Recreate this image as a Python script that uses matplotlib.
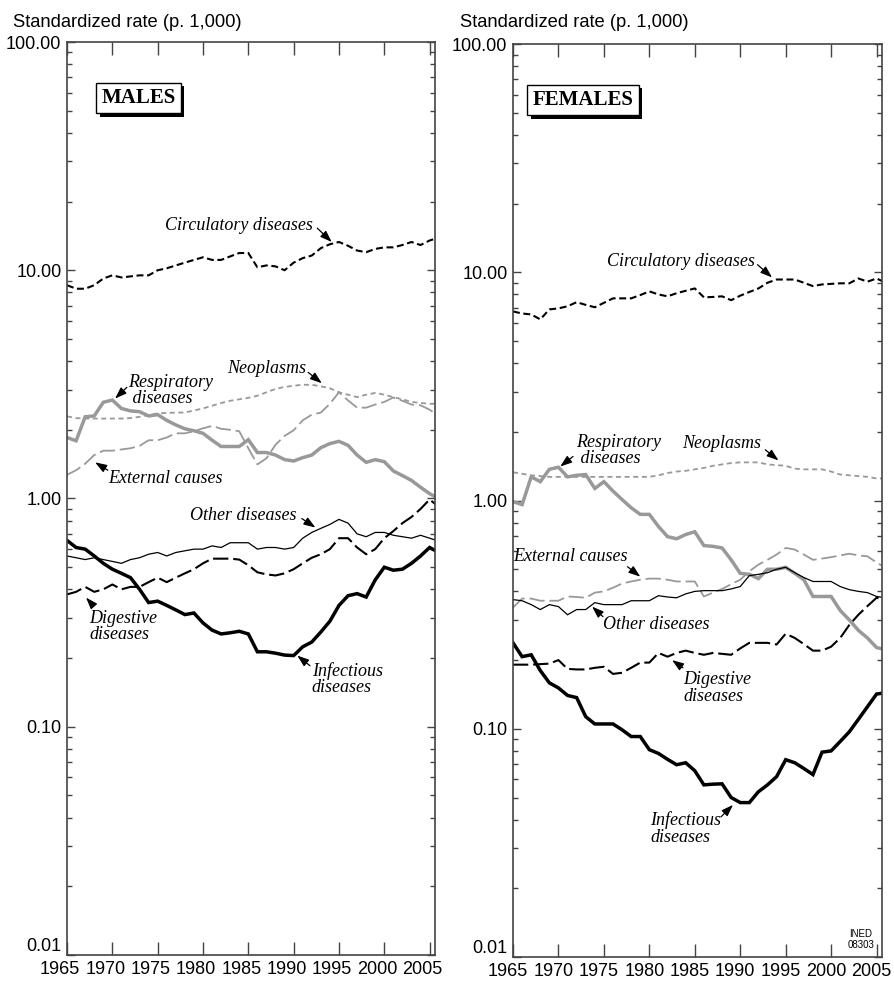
import matplotlib
matplotlib.use('Agg')
import matplotlib.pyplot as plt
import matplotlib.transforms as mtransforms
import matplotlib.patheffects as pe
from matplotlib.ticker import LogLocator, NullFormatter
import numpy as np

plt.rcParams['font.family'] = ['Liberation Sans', 'DejaVu Sans']
plt.rcParams['lines.scale_dashes'] = False

years = np.arange(1965, 2007)
xtick_years = list(range(1965, 2006, 5))
ytick_values = [0.01, 0.1, 1, 10, 100]
ytick_labels = ['0.01', '0.10', '1.00', '10.00', '100.00']

# males, rate per 1,000, 1965-2006
circ_m = [8.6, 8.3, 8.3, 8.6, 9.2, 9.5, 9.3, 9.4, 9.5, 9.5,
          10.0, 10.2, 10.5, 10.8, 11.1, 11.4, 11.1, 11.1, 11.5, 11.9,
          11.9, 10.3, 10.5, 10.4, 10.0, 10.8, 11.3, 11.6, 12.5, 13.0,
          13.3, 12.8, 12.2, 12.0, 12.4, 12.6, 12.6, 12.9, 13.3, 12.9,
          13.5, 13.9]
neo_m = [2.29, 2.25, 2.24, 2.24, 2.24, 2.24, 2.24, 2.25, 2.28, 2.32,
         2.36, 2.37, 2.38, 2.38, 2.43, 2.48, 2.55, 2.62, 2.68, 2.72,
         2.76, 2.82, 2.92, 3.02, 3.08, 3.12, 3.15, 3.15, 3.10, 3.04,
         2.92, 2.85, 2.78, 2.85, 2.90, 2.85, 2.78, 2.72, 2.65, 2.62,
         2.60, 2.60]
resp_m = [1.85, 1.79, 2.28, 2.30, 2.64, 2.70, 2.48, 2.42, 2.40, 2.30,
          2.33, 2.20, 2.10, 2.02, 1.98, 1.93, 1.80, 1.69, 1.69, 1.69,
          1.81, 1.59, 1.59, 1.55, 1.48, 1.46, 1.51, 1.55, 1.67, 1.74,
          1.78, 1.71, 1.55, 1.44, 1.48, 1.45, 1.32, 1.26, 1.20, 1.12,
          1.05, 1.00]
ext_m = [1.27, 1.33, 1.42, 1.55, 1.62, 1.62, 1.64, 1.66, 1.70, 1.80,
         1.80, 1.85, 1.93, 1.93, 1.97, 2.03, 2.08, 2.02, 2.00, 1.97,
         1.66, 1.41, 1.50, 1.72, 1.88, 1.99, 2.20, 2.33, 2.38, 2.60,
         2.92, 2.69, 2.50, 2.50, 2.58, 2.65, 2.77, 2.68, 2.58, 2.56,
         2.45, 2.30]
other_m = [0.56, 0.55, 0.54, 0.55, 0.54, 0.53, 0.52, 0.54, 0.55, 0.57,
           0.58, 0.56, 0.58, 0.59, 0.60, 0.60, 0.62, 0.61, 0.64, 0.64,
           0.64, 0.60, 0.61, 0.61, 0.60, 0.61, 0.67, 0.71, 0.74, 0.77,
           0.81, 0.78, 0.70, 0.68, 0.71, 0.71, 0.69, 0.68, 0.67, 0.69,
           0.67, 0.65]
dig_m = [0.38, 0.39, 0.41, 0.39, 0.40, 0.42, 0.40, 0.41, 0.41, 0.43,
         0.45, 0.43, 0.45, 0.47, 0.49, 0.52, 0.545, 0.545, 0.545, 0.54,
         0.51, 0.475, 0.465, 0.46, 0.47, 0.49, 0.52, 0.55, 0.57, 0.60,
         0.67, 0.67, 0.61, 0.57, 0.60, 0.67, 0.72, 0.78, 0.83, 0.90,
         0.99, 0.92]
inf_m = [0.655, 0.61, 0.60, 0.56, 0.52, 0.49, 0.47, 0.45, 0.40, 0.35,
         0.355, 0.34, 0.325, 0.31, 0.315, 0.285, 0.265, 0.255, 0.258, 0.262,
         0.255, 0.213, 0.213, 0.21, 0.206, 0.205, 0.224, 0.235, 0.26, 0.29,
         0.34, 0.375, 0.383, 0.37, 0.44, 0.50, 0.485, 0.49, 0.52, 0.56,
         0.61, 0.58]

# females
circ_f = [6.74, 6.6, 6.54, 6.22, 6.88, 6.95, 7.1, 7.4, 7.2, 7.03,
          7.35, 7.69, 7.69, 7.69, 7.95, 8.25, 8.0, 7.85, 8.1, 8.3,
          8.5, 7.77, 7.8, 7.85, 7.55, 7.9, 8.2, 8.5, 9.0, 9.3,
          9.3, 9.3, 9.0, 8.7, 8.85, 8.9, 8.95, 8.95, 9.4, 9.1,
          9.4, 9.0]
neo_f = [1.33, 1.31, 1.29, 1.28, 1.27, 1.27, 1.27, 1.27, 1.27, 1.27,
         1.27, 1.27, 1.27, 1.27, 1.27, 1.27, 1.29, 1.32, 1.34, 1.35,
         1.37, 1.39, 1.42, 1.44, 1.46, 1.47, 1.47, 1.47, 1.44, 1.43,
         1.42, 1.38, 1.37, 1.37, 1.37, 1.34, 1.30, 1.29, 1.28, 1.27,
         1.25, 1.25]
resp_f = [0.99, 0.96, 1.27, 1.21, 1.37, 1.40, 1.27, 1.29, 1.30, 1.13,
          1.21, 1.10, 1.01, 0.93, 0.87, 0.87, 0.77, 0.695, 0.68, 0.71,
          0.73, 0.635, 0.63, 0.62, 0.55, 0.48, 0.475, 0.455, 0.50, 0.50,
          0.51, 0.48, 0.45, 0.38, 0.38, 0.38, 0.33, 0.30, 0.27, 0.25,
          0.227, 0.222]
ext_f = [0.34, 0.372, 0.372, 0.364, 0.364, 0.364, 0.38, 0.378, 0.375, 0.395,
         0.40, 0.415, 0.433, 0.442, 0.45, 0.455, 0.455, 0.45, 0.442, 0.442,
         0.442, 0.38, 0.395, 0.41, 0.43, 0.45, 0.49, 0.524, 0.55, 0.58,
         0.62, 0.61, 0.58, 0.55, 0.557, 0.565, 0.575, 0.585, 0.575, 0.57,
         0.535, 0.508]
other_f = [0.368, 0.364, 0.35, 0.333, 0.35, 0.343, 0.316, 0.333, 0.333, 0.357,
           0.35, 0.35, 0.35, 0.364, 0.364, 0.364, 0.383, 0.378, 0.375, 0.39,
           0.40, 0.403, 0.403, 0.403, 0.41, 0.42, 0.469, 0.475, 0.483, 0.50,
           0.51, 0.483, 0.46, 0.442, 0.442, 0.442, 0.42, 0.407, 0.40, 0.395,
           0.38, 0.375]
dig_f = [0.191, 0.191, 0.191, 0.192, 0.193, 0.20, 0.183, 0.182, 0.182, 0.185,
         0.187, 0.174, 0.176, 0.185, 0.195, 0.195, 0.215, 0.207, 0.215, 0.22,
         0.215, 0.211, 0.215, 0.213, 0.211, 0.225, 0.238, 0.238, 0.238, 0.234,
         0.261, 0.25, 0.235, 0.22, 0.22, 0.229, 0.25, 0.285, 0.316, 0.345,
         0.375, 0.368]
inf_f = [0.238, 0.207, 0.211, 0.18, 0.159, 0.151, 0.14, 0.137, 0.113, 0.105,
         0.105, 0.105, 0.099, 0.0925, 0.0925, 0.081, 0.078, 0.0735, 0.0696, 0.071,
         0.0655, 0.0568, 0.0572, 0.0574, 0.05, 0.0475, 0.0475, 0.053, 0.0568, 0.0617,
         0.0732, 0.071, 0.067, 0.063, 0.079, 0.08, 0.088, 0.097, 0.11, 0.125,
         0.142, 0.144]

GRAY = '#999999'
styles = {
    'neo': (GRAY, 1.3, (0, (3.6, 2.6))),
    'ext': (GRAY, 1.3, (0, (11, 3.5))),
    'resp': (GRAY, 2.5, '-'),
    'circ': ('black', 1.5, (0, (5, 2.6))),
    'dig': ('black', 1.5, (0, (11, 3.5))),
    'other': ('black', 0.9, '-'),
    'inf': ('black', 2.5, '-'),
}

fig = plt.figure(figsize=(8.95, 9.84), dpi=100)
ax_m = fig.add_axes([0.0749, 0.0295, 0.4112, 0.9278])
ax_f = fig.add_axes([0.5732, 0.0274, 0.4123, 0.9278])


def setup(ax, label_shift):
    ax.set_yscale('log')
    ax.set_ylim(0.01, 100)
    ax.set_xlim(1965, 2005.6)
    ax.set_xticks(xtick_years)
    ax.set_xticklabels([str(y) for y in xtick_years])
    ax.set_yticks(ytick_values)
    ax.set_yticklabels(ytick_labels)
    ax.yaxis.set_minor_locator(LogLocator(base=10, subs=np.arange(2, 10)))
    ax.yaxis.set_minor_formatter(NullFormatter())
    ax.tick_params(axis='x', which='major', direction='in', length=9.5,
                   top=True, bottom=True, width=1, color='#444444',
                   labelsize=13, pad=4)
    ax.tick_params(axis='y', which='major', direction='in', length=6,
                   left=True, right=True, width=1, color='#444444',
                   labelsize=13, pad=4)
    ax.tick_params(axis='y', which='minor', direction='in', length=3.6,
                   left=True, right=True, width=1, color='#444444')
    for sp in ax.spines.values():
        sp.set_color('#444444')
        sp.set_linewidth(1.2)
    # year labels sit a little left of their ticks, 0.01 sits above the axis
    shift = mtransforms.ScaledTranslation(label_shift / 100, 0, fig.dpi_scale_trans)
    for lbl in ax.get_xticklabels():
        lbl.set_transform(lbl.get_transform() + shift)
    ax.get_yticklabels()[0].set_verticalalignment('bottom')


def box_title(ax, x, y, text):
    t = ax.text(x, y, text, transform=ax.transAxes, ha='center', va='center',
                fontsize=15, fontweight='bold', fontfamily='Liberation Serif',
                bbox=dict(boxstyle='square,pad=0.25', fc='white', ec='black', lw=1))
    t.get_bbox_patch().set_path_effects([
        pe.SimplePatchShadow(offset=(2.6, -2.6), shadow_rgbFace='black', alpha=1.0),
        pe.Normal()])


def note(ax, text, txy, tail, tip):
    ax.text(txy[0], txy[1], text, ha='left', va='center', fontsize=13,
            fontfamily='Liberation Serif', style='italic', linespacing=0.95)
    ax.annotate('', xy=tip, xytext=tail,
                arrowprops=dict(arrowstyle='-|>,head_length=0.7,head_width=0.25',
                                color='black', lw=0.9, shrinkA=0, shrinkB=0,
                                mutation_scale=10))


def draw(ax, data):
    for key in ['neo', 'ext', 'resp', 'circ', 'dig', 'other', 'inf']:
        color, lw, ls = styles[key]
        ax.plot(years, data[key], color=color, lw=lw, linestyle=ls,
                solid_joinstyle='miter', dash_capstyle='butt')


males = {'circ': circ_m, 'neo': neo_m, 'resp': resp_m, 'ext': ext_m,
         'other': other_m, 'dig': dig_m, 'inf': inf_m}
females = {'circ': circ_f, 'neo': neo_f, 'resp': resp_f, 'ext': ext_f,
           'other': other_f, 'dig': dig_f, 'inf': inf_f}

setup(ax_m, -7)
setup(ax_f, -5)
draw(ax_m, males)
draw(ax_f, females)

box_title(ax_m, 0.194, 0.9387, 'MALES')
box_title(ax_f, 0.19, 0.939, 'FEMALES')

note(ax_m, 'Circulatory diseases', (1975.8, 15.7), (1992.6, 15.3), (1994.2, 13.3))
note(ax_m, 'Neoplasms', (1982.7, 3.72), (1991.6, 3.57), (1993.1, 3.2))
note(ax_m, 'Respiratory\n diseases', (1971.7, 2.98), (1971.6, 3.07), (1970.3, 2.74))
note(ax_m, 'External causes', (1969.5, 1.22), (1969.5, 1.33), (1968.1, 1.44))
note(ax_m, 'Other diseases', (1978.6, 0.842), (1990.9, 0.817), (1992.4, 0.746))
note(ax_m, 'Digestive\ndiseases', (1967.5, 0.275), (1967.9, 0.339), (1967.1, 0.368))
note(ax_m, 'Infectious\ndiseases', (1992.0, 0.162), (1991.8, 0.185), (1990.4, 0.205))

note(ax_f, 'Circulatory diseases', (1975.35, 11.2), (1991.9, 10.8), (1993.5, 9.5))
note(ax_f, 'Respiratory\n diseases', (1971.9, 1.66), (1971.6, 1.56), (1970.2, 1.41))
note(ax_f, 'Neoplasms', (1983.6, 1.78), (1992.75, 1.67), (1994.2, 1.50))
note(ax_f, 'External causes', (1965.0, 0.568), (1977.6, 0.513), (1979.0, 0.464))
note(ax_f, 'Other diseases', (1974.9, 0.286), (1974.9, 0.31), (1973.7, 0.343))
note(ax_f, 'Digestive\ndiseases', (1983.7, 0.151), (1983.7, 0.185), (1982.5, 0.2))
note(ax_f, 'Infectious\ndiseases', (1980.1, 0.0365), (1987.9, 0.0412), (1989.2, 0.0464))

ax_f.text(0.943, 0.0195, 'INED\n08303', transform=ax_f.transAxes, ha='center',
          va='center', fontsize=7, linespacing=1.15)

fig.text(13 / 895, 1 - 27 / 984, 'Standardized rate (p. 1,000)', fontsize=13.2,
         ha='left', va='baseline')
fig.text(460 / 895, 1 - 27 / 984, 'Standardized rate (p. 1,000)', fontsize=13.2,
         ha='left', va='baseline')

fig.savefig('out.png', dpi=100)
